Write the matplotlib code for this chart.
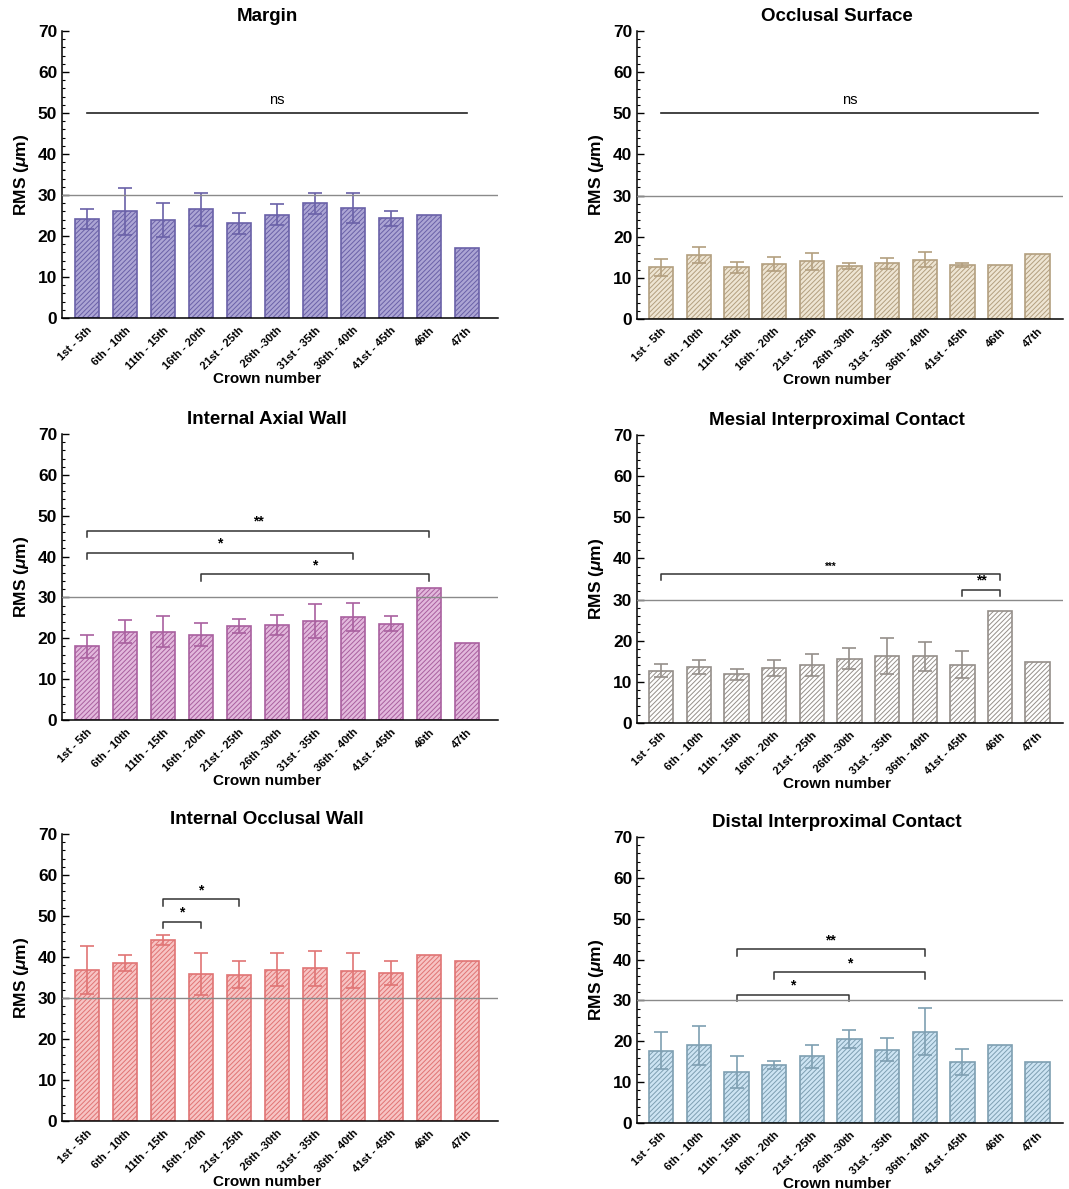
import matplotlib
matplotlib.use("Agg")
import matplotlib.pyplot as plt
from matplotlib.ticker import MultipleLocator
import numpy as np

plt.rcParams['font.family'] = ['Liberation Sans', 'DejaVu Sans']
plt.rcParams['hatch.linewidth'] = 0.7
plt.rcParams['mathtext.fontset'] = 'custom'
plt.rcParams['mathtext.it'] = 'Liberation Sans:italic:bold'
plt.rcParams['mathtext.rm'] = 'Liberation Sans:bold'

crowns = ['1st - 5th', '6th - 10th', '11th - 15th', '16th - 20th', '21st - 25th',
          '26th -30th', '31st - 35th', '36th - 40th', '41st - 45th', '46th', '47th']

# means and SD for each region (last two groups are single crowns, no SD)
margin_mean = [24.2, 26.0, 23.9, 26.5, 23.1, 25.2, 28.0, 26.8, 24.3, 25.2, 17.1]
margin_sd = [2.5, 5.7, 4.2, 4.1, 2.6, 2.5, 2.6, 3.7, 1.8, 0, 0]

occlusal_mean = [12.6, 15.6, 12.6, 13.4, 14.0, 12.9, 13.5, 14.4, 13.2, 13.2, 15.8]
occlusal_sd = [2.1, 2.0, 1.3, 1.7, 2.1, 0.7, 1.3, 1.8, 0.5, 0, 0]

axial_mean = [18.0, 21.6, 21.6, 20.9, 23.0, 23.2, 24.2, 25.2, 23.6, 32.4, 18.9]
axial_sd = [2.8, 2.8, 3.8, 2.8, 1.8, 2.4, 4.1, 3.4, 1.9, 0, 0]

mesial_mean = [12.7, 13.5, 11.8, 13.4, 14.1, 15.6, 16.3, 16.2, 14.2, 27.2, 14.8]
mesial_sd = [1.6, 1.7, 1.4, 1.9, 2.6, 2.6, 4.3, 3.5, 3.2, 0, 0]

int_occ_mean = [36.8, 38.5, 44.1, 35.8, 35.7, 36.9, 37.2, 36.7, 36.1, 40.5, 38.9]
int_occ_sd = [5.8, 1.9, 1.2, 5.1, 3.2, 4.0, 4.2, 4.2, 3.0, 0, 0]

distal_mean = [17.7, 19.0, 12.4, 14.2, 16.3, 20.5, 17.9, 22.4, 14.9, 19.0, 14.9]
distal_sd = [4.6, 4.8, 3.9, 1.1, 2.8, 2.2, 2.8, 5.7, 3.2, 0, 0]

# significance brackets: (start group, end group, height, label)
margin_sig = [(0, 10, 50.0, 'ns')]
occlusal_sig = [(0, 10, 50.0, 'ns')]
axial_sig = [(0, 9, 46.3, '**'), (0, 7, 41.0, '*'), (3, 9, 35.7, '*')]
mesial_sig = [(0, 9, 36.3, '***'), (8, 9, 32.4, '**')]
int_occ_sig = [(2, 4, 54.1, '*'), (2, 3, 48.6, '*')]
distal_sig = [(2, 7, 42.5, '**'), (3, 7, 36.9, '*'), (2, 5, 31.4, '*')]

panels = [
    ('Margin', margin_mean, margin_sd, margin_sig, '#6a61a8', '#aca5d4',
     [0.058, 0.7325, 0.408, 0.2415], (-0.66, 10.82)),
    ('Occlusal Surface', occlusal_mean, occlusal_sd, occlusal_sig, '#b39f7f', '#eee5d3',
     [0.596, 0.7317, 0.398, 0.2423], (-0.64, 10.66)),
    ('Internal Axial Wall', axial_mean, axial_sd, axial_sig, '#a9609f', '#e2b8dc',
     [0.058, 0.3944, 0.408, 0.2406], (-0.66, 10.82)),
    ('Mesial Interproximal Contact', mesial_mean, mesial_sd, mesial_sig, '#958f8a', '#ffffff',
     [0.596, 0.392, 0.398, 0.242], (-0.64, 10.66)),
    ('Internal Occlusal Wall', int_occ_mean, int_occ_sd, int_occ_sig, '#e07474', '#f7c4c4',
     [0.058, 0.0572, 0.408, 0.2414], (-0.66, 10.82)),
    ('Distal Interproximal Contact', distal_mean, distal_sd, distal_sig, '#7e9fb2', '#cde4f3',
     [0.596, 0.0555, 0.398, 0.2405], (-0.64, 10.66)),
]

fig = plt.figure(figsize=(10.69, 11.89), dpi=100)

for title, mean, sd, sig, dark, light, rect, xlim in panels:
    ax = fig.add_axes(rect)
    x = np.arange(len(crowns))
    ax.bar(x, mean, width=0.65, color=light, edgecolor=dark, hatch='///////',
           linewidth=1.2, zorder=2)
    err_x = [i for i in x if sd[i] > 0]
    ax.errorbar(err_x, [mean[i] for i in err_x], yerr=[sd[i] for i in err_x],
                fmt='none', ecolor=dark, elinewidth=1.2, capsize=5, capthick=1.2, zorder=3)
    ax.axhline(30, color='#8a8a8a', linewidth=1.0, zorder=4)

    for a, b, h, lab in sig:
        if lab == 'ns':
            ax.plot([a, b], [h, h], color='#222222', linewidth=1.2)
            ax.text((a + b) / 2, h + 1.5, lab, ha='center', va='bottom', fontsize=10.5)
        else:
            ax.plot([a, a, b, b], [h - 1.6, h, h, h - 1.6], color='#333333', linewidth=1.1)
            ax.text((a + b) / 2, h + 0.5, lab, ha='center', va='bottom',
                    fontsize=10 if len(lab) < 3 else 7, fontweight='bold')

    ax.set_xlim(*xlim)
    ax.set_ylim(0, 70)
    ax.yaxis.set_major_locator(MultipleLocator(10))
    ax.yaxis.set_minor_locator(MultipleLocator(2))
    ax.tick_params(axis='y', which='major', direction='in', length=5, labelsize=12.5, width=1)
    ax.tick_params(axis='y', which='minor', direction='in', length=2.5, width=0.8)
    for t in ax.get_yticklabels():
        t.set_fontweight('bold')
    ax.set_xticks(x)
    ax.set_xticklabels(crowns, rotation=45, ha='right', rotation_mode='anchor',
                       fontsize=8, fontweight='bold')
    ax.tick_params(axis='x', length=0, pad=5)
    ax.spines['top'].set_visible(False)
    ax.spines['right'].set_visible(False)
    ax.spines['left'].set_linewidth(1.1)
    ax.spines['bottom'].set_linewidth(1.1)
    ax.set_title(title, fontsize=13.5, fontweight='bold', x=0.47, pad=7)
    ax.set_ylabel(r'RMS ($\mu$m)', fontsize=12.5, fontweight='bold', labelpad=5)
    ax.set_xlabel('Crown number', fontsize=11, fontweight='bold', x=0.47, labelpad=0)

fig.savefig('out.png', dpi=100)
